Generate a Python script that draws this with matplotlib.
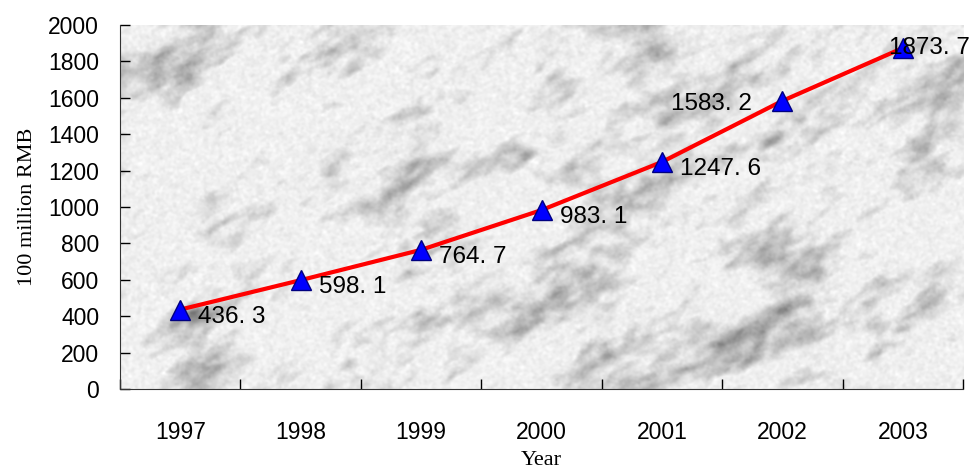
import numpy as np
import matplotlib
matplotlib.use("Agg")
import matplotlib.pyplot as plt

# yearly values, 100 million RMB
years = ["1997", "1998", "1999", "2000", "2001", "2002", "2003"]
values = [436.3, 598.1, 764.7, 983.1, 1247.6, 1583.2, 1873.7]


def streak_noise(rng, shape, s_long, s_short, angle=30):
    # noise blurred more along one direction, gives diagonal streaks
    n = rng.standard_normal(shape)
    fy = np.fft.fftfreq(shape[0])[:, None]
    fx = np.fft.fftfreq(shape[1])[None, :]
    a = np.deg2rad(angle)
    fu = fx * np.cos(a) - fy * np.sin(a)
    fv = fx * np.sin(a) + fy * np.cos(a)
    filt = np.exp(-2 * np.pi ** 2 * (s_long ** 2 * fu ** 2 + s_short ** 2 * fv ** 2))
    out = np.real(np.fft.ifft2(np.fft.fft2(n) * filt))
    return (out - out.mean()) / out.std()


def marble(h, w, seed=3):
    rng = np.random.default_rng(seed)
    big = streak_noise(rng, (h, w), 34, 18)
    mid = streak_noise(rng, (h, w), 14, 6)
    small = streak_noise(rng, (h, w), 5, 2.5)
    grain = streak_noise(rng, (h, w), 1.2, 1.2)
    field = 0.5 * big + 0.4 * mid + 0.3 * small
    shade = np.clip(field + 0.15, 0, None) ** 1.2
    img = 0.94 - 0.13 * shade - 0.015 * grain
    return np.clip(img, 0, 1)


fig = plt.figure(figsize=(9.78, 4.73), dpi=100)
ax = fig.add_axes([0.1227, 0.1776, 0.8620, 0.7695])

# marble backdrop for the plot area
ax.imshow(marble(364, 843), cmap="gray", vmin=0, vmax=1, extent=(-0.5, 6.5, 0, 2000),
          aspect="auto", interpolation="bilinear", zorder=0)

x = np.arange(len(years))
ax.plot(x, values, color="#ff0000", lw=3, zorder=2, solid_capstyle="round")
ax.plot(x, values, ls="none", marker="^", ms=14, mfc="#0000ff", mec="#000080", mew=1, zorder=3)

font = "Liberation Sans"
for i, v in enumerate(values):
    txt = f"{v:.1f}".replace(".", ". ")
    if i < 5:
        ax.annotate(txt, (i, v), xytext=(13, -5), textcoords="offset points",
                    ha="left", va="center", fontsize=17.5, family=font, zorder=4)
    elif i == 5:
        ax.annotate(txt, (i, v), xytext=(-22, -2), textcoords="offset points",
                    ha="right", va="center", fontsize=17.5, family=font, zorder=4)
    else:
        ax.annotate(txt, (i, v), xytext=(-10, 0), textcoords="offset points",
                    ha="left", va="center", fontsize=17.5, family=font, zorder=4)

ax.set_xlim(-0.5, 6.5)
ax.set_ylim(0, 2000)
ax.set_yticks(range(0, 2001, 200))
ax.set_xticks(np.arange(-0.5, 7, 1))
ax.set_xticklabels([])
ax.set_xticks(x, minor=True)
ax.set_xticklabels(years, minor=True)
ax.tick_params(axis="x", which="major", direction="in", length=7, width=1)
ax.tick_params(axis="x", which="minor", length=0, pad=23, labelsize=16.5)
ax.tick_params(axis="y", direction="in", length=7, width=1, pad=15, labelsize=16.5)
for lab in ax.get_xticklabels(minor=True) + ax.get_yticklabels():
    lab.set_family(font)

for side in ["top", "right"]:
    ax.spines[side].set_visible(False)
ax.spines["left"].set_color("#333333")
ax.spines["bottom"].set_color("#333333")

ax.set_xlabel("Year", family="Liberation Serif", fontsize=16, labelpad=5)
ax.set_ylabel("100 million RMB", family="Liberation Serif", fontsize=16, labelpad=8)

fig.savefig("out.png", dpi=100)
